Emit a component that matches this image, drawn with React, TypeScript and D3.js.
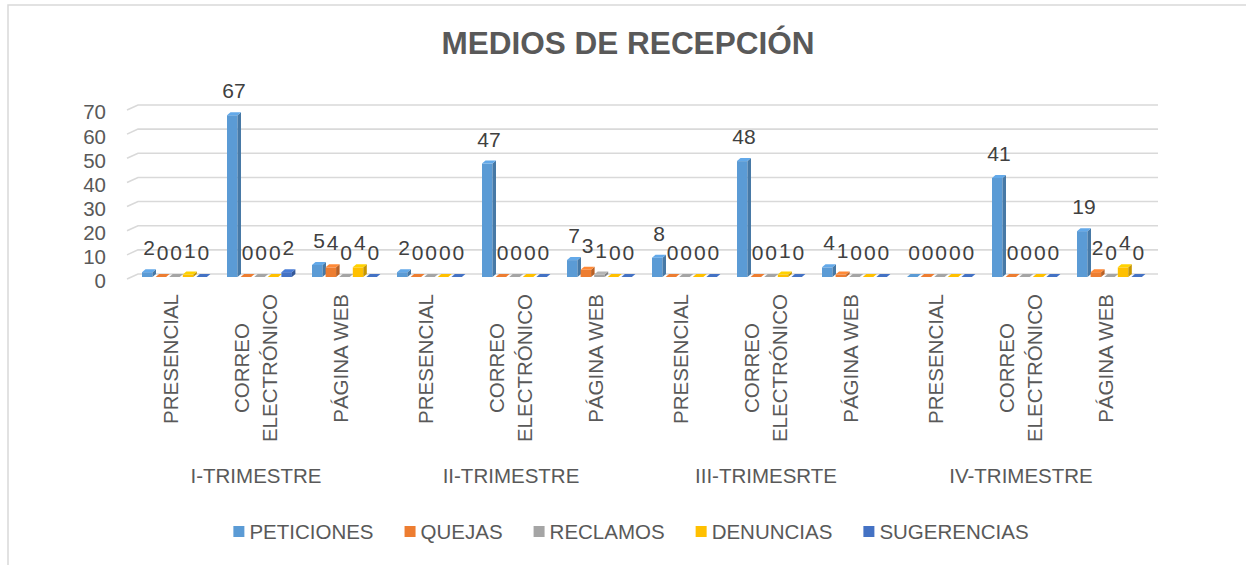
import React, { useEffect, useRef } from "react"
import * as d3 from "d3"

const trimestres = ["I-TRIMESTRE", "II-TRIMESTRE", "III-TRIMESRTE", "IV-TRIMESTRE"]
const medios = [["PRESENCIAL"], ["CORREO", "ELECTRÓNICO"], ["PÁGINA WEB"]]
const series = ["PETICIONES", "QUEJAS", "RECLAMOS", "DENUNCIAS", "SUGERENCIAS"]
const colors = ["#5B9BD5", "#ED7D31", "#A5A5A5", "#FFC000", "#4472C4"]

// one value per trimestre x medio (12 categories)
const peticiones = [2, 67, 5, 2, 47, 7, 8, 48, 4, 0, 41, 19]
const quejas = [0, 0, 4, 0, 0, 3, 0, 0, 1, 0, 0, 2]
const reclamos = [0, 0, 0, 0, 0, 1, 0, 0, 0, 0, 0, 0]
const denuncias = [1, 0, 4, 0, 0, 0, 0, 1, 0, 0, 0, 4]
const sugerencias = [0, 2, 0, 0, 0, 0, 0, 0, 0, 0, 0, 0]
const yTicks = [0, 10, 20, 30, 40, 50, 60, 70]

const W = 1246
const H = 565
const FONT = "'Liberation Sans', Arial, sans-serif"
const FS = 20.5
const TXT = "#595959"

export default function App() {
    const ref = useRef<SVGSVGElement>(null)

    useEffect(() => {
        const svg = d3.select(ref.current)
        svg.selectAll("*").remove()

        const values = [peticiones, quejas, reclamos, denuncias, sugerencias]
        const cats = d3.range(12)

        const x = d3
            .scaleBand<number>()
            .domain(cats)
            .range([128.5, 1148.5])
            .paddingInner(0.2)
            .paddingOuter(0.1)
        const y = d3.scaleLinear().domain([0, 70]).range([281, 112])
        const backShift = 7 // back wall
        const midShift = 4 // bars sit at mid depth
        const depthX = 3.5
        const depthY = 3
        const sub = x.bandwidth() / series.length
        const barW = 10.5

        // frame
        svg.append("rect")
            .attr("x", 8)
            .attr("y", 5)
            .attr("width", W)
            .attr("height", H)
            .attr("fill", "none")
            .attr("stroke", "#d9d9d9")
            .attr("stroke-width", 1.5)

        // title
        svg.append("text")
            .attr("x", 628)
            .attr("y", 54)
            .attr("text-anchor", "middle")
            .attr("font-family", FONT)
            .attr("font-weight", "bold")
            .attr("font-size", 31.5)
            .attr("fill", TXT)
            .text("MEDIOS DE RECEPCIÓN")

        // gridlines on the back wall, with the floor diagonal at the left
        const grid = svg.append("g")
        yTicks.forEach(t => {
            grid.append("path")
                .attr("d", `M127,${y(t) - 2}L138,${y(t) - backShift}L1158,${y(t) - backShift}`)
                .attr("fill", "none")
                .attr("stroke", "#d9d9d9")
                .attr("stroke-width", 1.6)
        })

        // y labels
        svg.append("g")
            .selectAll("text")
            .data(yTicks)
            .enter()
            .append("text")
            .attr("x", 106)
            .attr("y", d => y(d))
            .attr("dy", "0.36em")
            .attr("text-anchor", "end")
            .attr("font-family", FONT)
            .attr("font-size", FS)
            .attr("fill", TXT)
            .text(d => d)

        // 3d bars
        const bars = svg.append("g")
        cats.forEach(c => {
            series.forEach((s, j) => {
                const v = values[j][c]
                const bx = x(c)! + 5 + j * sub
                const top = y(v) - midShift
                const bot = y(0) - midShift
                const col = d3.color(colors[j])!
                const g = bars.append("g")
                if (v > 0) {
                    g.append("rect")
                        .attr("x", bx)
                        .attr("y", top)
                        .attr("width", barW)
                        .attr("height", bot - top)
                        .attr("fill", colors[j])
                    g.append("path")
                        .attr("d", `M${bx + barW},${top}L${bx + barW + depthX},${top - depthY}L${bx + barW + depthX},${bot - depthY}L${bx + barW},${bot}Z`)
                        .attr("fill", col.darker(0.7).toString())
                }
                g.append("path")
                    .attr("d", `M${bx},${top}L${bx + depthX},${top - depthY}L${bx + barW + depthX},${top - depthY}L${bx + barW},${top}Z`)
                    .attr("fill", v > 0 ? col.brighter(0.25).toString() : colors[j])
            })
        })

        // data labels
        const labels = svg.append("g")
        cats.forEach(c => {
            series.forEach((s, j) => {
                const v = values[j][c]
                labels.append("text")
                    .attr("x", x(c)! + 5 + j * sub + (barW + depthX) / 2)
                    .attr("y", y(v) - midShift - 17)
                    .attr("text-anchor", "middle")
                    .attr("font-family", FONT)
                    .attr("font-size", 21)
                    .attr("fill", "#404040")
                    .text(v)
            })
        })

        // category labels, rotated, lines centred in a block that starts at y=294
        const catG = svg.append("g")
        cats.forEach(c => {
            const lines = medios[c % 3]
            const cx = x(c)! + x.bandwidth() / 2
            const nodes: SVGTextElement[] = []
            lines.forEach(ln => {
                const t = catG.append("text")
                    .attr("text-anchor", "middle")
                    .attr("dy", "0.36em")
                    .attr("font-family", FONT)
                    .attr("font-size", FS)
                    .attr("fill", TXT)
                    .text(ln)
                nodes.push(t.node()!)
            })
            const maxLen = d3.max(nodes, n => n.getComputedTextLength())!
            nodes.forEach((n, i) => {
                const lx = cx + (i - (lines.length - 1) / 2) * 28
                d3.select(n).attr("transform", `translate(${lx},${294 + maxLen / 2}) rotate(-90)`)
            })
        })

        // trimestre labels
        svg.append("g")
            .selectAll("text")
            .data(trimestres)
            .enter()
            .append("text")
            .attr("x", (d, i) => x(i * 3 + 1)! + x.bandwidth() / 2)
            .attr("y", 483)
            .attr("text-anchor", "middle")
            .attr("font-family", FONT)
            .attr("font-size", FS)
            .attr("fill", TXT)
            .text(d => d)

        // legend
        const leg = svg.append("g")
        const items = series.map((s, j) => {
            const g = leg.append("g")
            g.append("rect")
                .attr("y", 526)
                .attr("width", 11)
                .attr("height", 11)
                .attr("fill", colors[j])
            const t = g.append("text")
                .attr("x", 16)
                .attr("y", 539)
                .attr("font-family", FONT)
                .attr("font-size", FS)
                .attr("fill", TXT)
                .text(s)
            return { g, w: 16 + t.node()!.getComputedTextLength() }
        })
        const gap = 31
        const total = d3.sum(items, d => d.w) + gap * (items.length - 1)
        let pos = 631 - total / 2
        items.forEach(it => {
            it.g.attr("transform", `translate(${pos},0)`)
            pos += it.w + gap
        })
    }, [])

    return (
        <svg
            ref={ref}
            width={W}
            height={H}
            style={{ position: "absolute", left: 0, top: 0, background: "#fff" }}
        />
    )
}
